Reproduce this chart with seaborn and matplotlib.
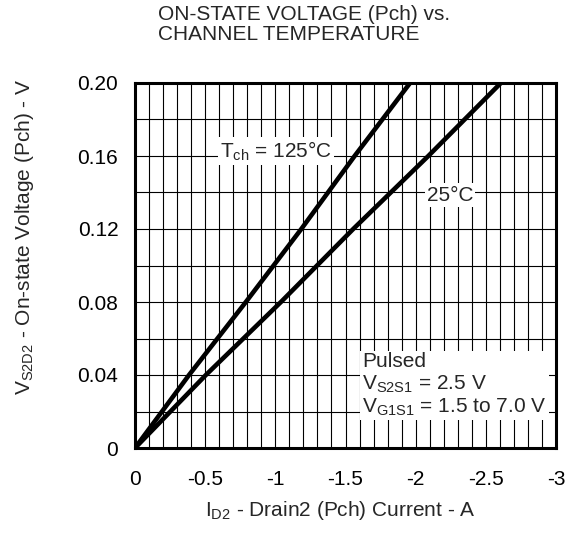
import matplotlib
matplotlib.use("Agg")
import matplotlib.pyplot as plt
import seaborn as sns
import pandas as pd
from matplotlib.ticker import MultipleLocator, FixedLocator

# ---- data ----
voltage_pts = [0, 0.04, 0.08, 0.12, 0.16, 0.20]
current_125 = [0, -0.385, -0.79, -1.185, -1.565, -1.96]
current_25 = [0, -0.505, -1.04, -1.555, -2.09, -2.607]
series_names = ["125", "25"]

x_ticks = [0, -0.5, -1, -1.5, -2, -2.5, -3]
x_tick_labels = ["0", "-0.5", "-1", "-1.5", "-2", "-2.5", "-3"]
y_ticks = [0, 0.04, 0.08, 0.12, 0.16, 0.20]
y_tick_labels = ["0", "0.04", "0.08", "0.12", "0.16", "0.20"]

df = pd.concat([
    pd.DataFrame({"I": current_125, "V": voltage_pts, "T": series_names[0]}),
    pd.DataFrame({"I": current_25, "V": voltage_pts, "T": series_names[1]}),
])

sns.set_theme(style="white")
plt.rcParams["font.family"] = ["Liberation Sans", "DejaVu Sans"]
plt.rcParams["mathtext.fontset"] = "custom"
plt.rcParams["mathtext.rm"] = "Liberation Sans"
plt.rcParams["mathtext.default"] = "regular"

W, H = 576, 537
fig = plt.figure(figsize=(W / 100, H / 100), dpi=100)
ax = fig.add_axes([135 / W, 1 - 448 / H, (556 - 135) / W, (448 - 83) / H])

sns.lineplot(data=df, x="I", y="V", hue="T", palette=["black", "black"],
             linewidth=3.3, legend=False, ax=ax, sort=False, zorder=5)

ax.set_xlim(0, -3)
ax.set_ylim(0, 0.20)
ax.xaxis.set_major_locator(FixedLocator(x_ticks))
ax.set_xticklabels(x_tick_labels)
ax.yaxis.set_major_locator(FixedLocator(y_ticks))
ax.set_yticklabels(y_tick_labels)
ax.xaxis.set_minor_locator(MultipleLocator(0.1))
ax.yaxis.set_minor_locator(MultipleLocator(0.02))
ax.grid(True, which="both", color="black", linewidth=0.8)
ax.set_axisbelow(True)
ax.tick_params(which="both", length=0, labelsize=15, colors="black")
ax.tick_params(axis="x", pad=16)
ax.tick_params(axis="y", pad=12)
for s in ax.spines.values():
    s.set_linewidth(2.2)
    s.set_color("black")
ax.set_xlabel("")
ax.set_ylabel("")

fs = 15
bb = dict(facecolor="white", edgecolor="none", pad=1.5)
ax.text(-0.606, 0.1627, r"T$_{ch}$ = 125°C", fontsize=fs, va="center", ha="left",
        bbox=bb, zorder=3)
ax.text(-2.245, 0.1386, "25°C", fontsize=fs, va="center", ha="center",
        bbox=bb, zorder=3)
ax.text(-1.62, 0.0345,
        "Pulsed\n" + r"V$_{S2S1}$ = 2.5 V" + "\n" + r"V$_{G1S1}$ = 1.5 to 7.0 V",
        fontsize=fs, va="center", ha="left", linespacing=1.15,
        bbox=dict(facecolor="white", edgecolor="none", pad=1.5), zorder=3)

fig.text(158 / W, 1 - 5 / H, "ON-STATE VOLTAGE (Pch) vs.\nCHANNEL TEMPERATURE",
         fontsize=15, ha="left", va="top", linespacing=1.05)
fig.text(340 / W, 1 - 510 / H, r"I$_{D2}$ - Drain2 (Pch) Current - A",
         fontsize=15, ha="center", va="center")
fig.text(25 / W, 1 - 237 / H, r"V$_{S2D2}$ - On-state Voltage (Pch) - V",
         fontsize=15, ha="center", va="center", rotation=90)

fig.savefig("out.png", dpi=100)
